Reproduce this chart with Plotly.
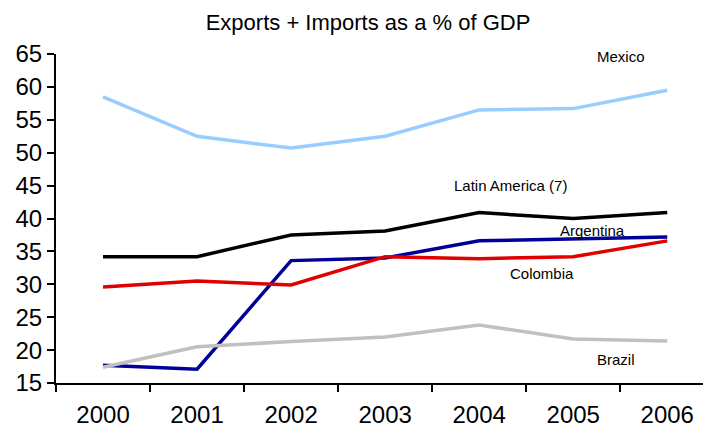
import plotly.graph_objects as go

# Trade openness: exports + imports as a share of GDP
years = ["2000", "2001", "2002", "2003", "2004", "2005", "2006"]
mexico = [58.5, 52.5, 50.7, 52.5, 56.5, 56.7, 59.5]
latin_america = [34.2, 34.2, 37.5, 38.1, 40.9, 40.0, 40.9]
argentina = [17.7, 17.1, 33.6, 34.0, 36.6, 36.9, 37.2]
colombia = [29.6, 30.5, 29.9, 34.2, 33.9, 34.2, 36.6]
brazil = [17.4, 20.5, 21.3, 22.0, 23.8, 21.7, 21.4]
y_ticks = [15, 20, 25, 30, 35, 40, 45, 50, 55, 60, 65]

FONT = "Arial, Liberation Sans, sans-serif"

series = [
    ("Mexico", mexico, "#99CCFF"),
    ("Latin America (7)", latin_america, "#000000"),
    ("Argentina", argentina, "#000099"),
    ("Colombia", colombia, "#E00000"),
    ("Brazil", brazil, "#C0C0C0"),
]

fig = go.Figure()
for name, values, color in series:
    fig.add_trace(go.Scatter(
        x=years, y=values, name=name, mode="lines",
        line=dict(color=color, width=3.5),
        showlegend=False,
    ))

# Series labels placed beside their lines
labels = [
    ("Mexico", 5.51, 64.6),
    ("Latin America (7)", 4.33, 45.0),
    ("Argentina", 5.2, 38.25),
    ("Colombia", 4.67, 31.65),
    ("Brazil", 5.45, 18.55),
]
for text, xi, yv in labels:
    fig.add_annotation(
        x=xi, y=yv, xref="x", yref="y", text=text, showarrow=False,
        font=dict(family=FONT, size=15, color="#000000"),
        xanchor="center", yanchor="middle",
    )

fig.update_layout(
    width=703, height=426,
    margin=dict(l=56, r=0, t=54, b=43),
    paper_bgcolor="white", plot_bgcolor="white",
    title=dict(
        text="Exports + Imports as a % of GDP",
        x=368 / 703, xanchor="center", xref="container",
        y=1 - 22 / 426, yanchor="middle", yref="container",
        font=dict(family=FONT, size=22, color="#000000"),
    ),
    font=dict(family=FONT, color="#000000"),
)

fig.update_xaxes(
    type="category", range=[-0.5, 6.38], automargin=False,
    tickson="boundaries", ticks="outside", ticklen=7, tickwidth=2,
    tickcolor="#000000", showline=True, linecolor="#000000", linewidth=2,
    showgrid=False, zeroline=False,
    tickfont=dict(family=FONT, size=24, color="#000000"),
    ticklabelstandoff=9,
)
fig.update_yaxes(
    range=[15, 65], tickvals=y_ticks, automargin=False,
    ticks="outside", ticklen=7, tickwidth=2,
    tickcolor="#000000", showline=True, linecolor="#000000", linewidth=2,
    showgrid=False, zeroline=False,
    tickfont=dict(family=FONT, size=24, color="#000000"),
)

fig.write_html("out.html")
